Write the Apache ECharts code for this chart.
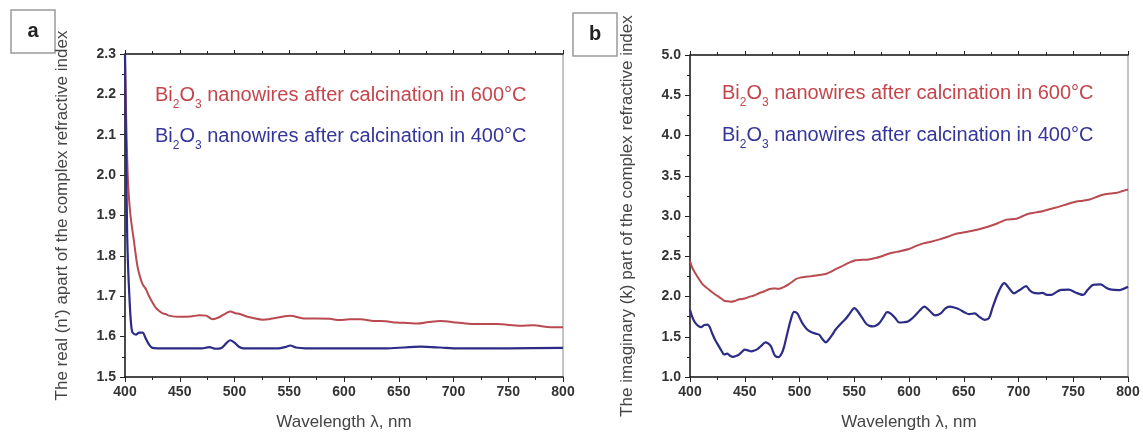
<!DOCTYPE html>
<html>
<head>
<meta charset="utf-8">
<script src="https://cdn.jsdelivr.net/npm/echarts@6/dist/echarts.min.js"></script>
<style>
  html, body { margin: 0; padding: 0; background: #fff; }
  #chart { width: 1143px; height: 432px; }
</style>
</head>
<body>
<div id="chart"></div>
<script>
// panel a: real part n
var aRedWl = [400,401,402,403,405,408,411,413,416,419,422,425,428,431,434,437,440,450,460,468,474,480,486,491,496,501,505,511,517,526,533,541,551,563,575,587,596,605,615,627,638,648,658,667,677,688,703,718,740,761,773,786,800];
var aRed   = [2.29,2.15,2.04,1.97,1.90,1.84,1.78,1.755,1.73,1.718,1.70,1.685,1.672,1.664,1.658,1.656,1.652,1.649,1.650,1.653,1.652,1.643,1.648,1.656,1.662,1.658,1.656,1.650,1.646,1.642,1.644,1.648,1.652,1.645,1.645,1.644,1.641,1.643,1.643,1.639,1.638,1.635,1.634,1.6325,1.636,1.639,1.635,1.631,1.631,1.627,1.628,1.624,1.623];
var aBlueWl = [400,401,402,403,404,405,406,407,410,413,416,419,422,425,430,450,470,477,483,488,492,496,500,504,508,520,540,546,551,556,565,600,640,670,688,700,750,800];
var aBlue   = [2.30,2.05,1.85,1.76,1.70,1.65,1.62,1.61,1.605,1.61,1.61,1.595,1.58,1.572,1.571,1.571,1.571,1.574,1.570,1.572,1.582,1.591,1.585,1.575,1.571,1.571,1.571,1.574,1.578,1.573,1.571,1.571,1.571,1.575,1.573,1.571,1.571,1.572];

// panel b: imaginary part k
var bRedWl = [400,402,405,408,411,414,417,420,423,427,431,434,437,441,445,450,454,458,463,468,472,476,478,481,486,490,494,497,501,506,510,515,520,524,529,533,538,542,547,551,557,563,568,573,578,582,587,591,600,606,613,620,628,636,643,652,661,668,674,681,689,698,704,710,716,722,730,738,745,753,759,765,771,777,784,790,795,800];
var bRed   = [2.44,2.36,2.285,2.22,2.16,2.12,2.09,2.055,2.025,1.99,1.95,1.94,1.935,1.945,1.965,1.975,1.995,2.01,2.04,2.065,2.09,2.10,2.10,2.095,2.12,2.15,2.19,2.22,2.235,2.245,2.25,2.26,2.27,2.28,2.31,2.34,2.37,2.40,2.43,2.45,2.455,2.46,2.475,2.49,2.515,2.535,2.55,2.56,2.59,2.625,2.66,2.68,2.71,2.745,2.78,2.80,2.825,2.85,2.875,2.91,2.955,2.965,3.0,3.03,3.045,3.06,3.09,3.12,3.15,3.18,3.19,3.205,3.235,3.265,3.28,3.29,3.31,3.33];
var bBlueWl = [400,402,404,407,410,413,416,418,420,423,426,429,431,434,436,439,442,445,448,450,453,456,459,462,466,469,471,474,476,478,481,484,486,489,492,495,498,501,503,507,511,515,518,521,524,527,530,533,536,539,542,546,550,553,557,561,564,567,570,573,577,580,583,587,591,595,599,603,606,610,614,619,624,629,633,637,642,646,651,655,660,664,669,673,676,680,684,687,691,696,701,707,710,713,718,722,726,730,734,738,746,752,759,763,768,775,780,785,792,800];
var bBlue   = [1.835,1.75,1.69,1.64,1.62,1.645,1.65,1.62,1.55,1.46,1.39,1.32,1.28,1.29,1.27,1.25,1.26,1.28,1.32,1.34,1.33,1.318,1.33,1.35,1.40,1.43,1.42,1.38,1.31,1.26,1.248,1.30,1.38,1.55,1.71,1.81,1.79,1.71,1.66,1.59,1.555,1.537,1.525,1.47,1.43,1.47,1.525,1.59,1.636,1.68,1.72,1.79,1.855,1.82,1.74,1.66,1.635,1.628,1.64,1.67,1.75,1.805,1.79,1.74,1.677,1.68,1.69,1.73,1.77,1.83,1.875,1.82,1.765,1.79,1.85,1.875,1.86,1.84,1.80,1.78,1.79,1.75,1.71,1.73,1.85,2.0,2.12,2.165,2.11,2.04,2.08,2.13,2.08,2.05,2.04,2.045,2.02,2.02,2.05,2.08,2.085,2.05,2.02,2.08,2.144,2.15,2.11,2.085,2.08,2.12];

var legendRed = '600°C';
var legendBlue = '400°C';

function pairs(xs, ys) {
    return xs.map(function (x, i) { return [x, ys[i]]; });
}

var chart = echarts.init(document.getElementById('chart'));

var font = 'Liberation Sans, Arial, sans-serif';
var redLine = '#b84a50';
var blueLine = '#2c2c86';

function xAxisFor(gi) {
    return {
        type: 'value', gridIndex: gi, min: 400, max: 800, interval: 50,
        name: 'Wavelength \u03bb, nm', nameLocation: 'middle', nameGap: 37,
        nameTextStyle: { fontFamily: font, fontSize: 17, color: '#444' },
        axisLine: { show: true, onZero: false, lineStyle: { color: '#222', width: 1.5 } },
        axisTick: { show: true, length: 5, lineStyle: { color: '#222' } },
        minorTick: { show: true, splitNumber: 2, length: 3, lineStyle: { color: '#222' } },
        axisLabel: { fontFamily: font, fontSize: 14, fontWeight: 'bold', color: '#333', margin: 8 },
        splitLine: { show: false }
    };
}
function topAxisFor(gi) {
    return {
        type: 'value', gridIndex: gi, position: 'top', min: 400, max: 800, interval: 50,
        axisLine: { show: true, onZero: false, lineStyle: { color: '#222', width: 1.5 } },
        axisTick: { show: true, length: 4, lineStyle: { color: '#222' } },
        minorTick: { show: true, splitNumber: 2, length: 3, lineStyle: { color: '#222' } },
        axisLabel: { show: false },
        splitLine: { show: false }
    };
}
function yAxisFor(gi, min, max, step, name) {
    return {
        type: 'value', gridIndex: gi, min: min, max: max, interval: step,
        name: name, nameLocation: 'middle', nameGap: 54,
        nameTextStyle: { fontFamily: font, fontSize: 17, color: '#444' },
        axisLine: { show: true, onZero: false, lineStyle: { color: '#222', width: 1.5 } },
        axisTick: { show: true, length: 5, lineStyle: { color: '#222' } },
        minorTick: { show: true, splitNumber: 2, length: 3, lineStyle: { color: '#222' } },
        axisLabel: {
            fontFamily: font, fontSize: 14, fontWeight: 'bold', color: '#333', margin: 9,
            formatter: function (v) { return v.toFixed(1); }
        },
        splitLine: { show: false }
    };
}

function legendText(x, y, temp, color) {
    return {
        type: 'text', left: x, top: y,
        style: {
            text: '{r|Bi}{s|2}{r|O}{s|3}{r| nanowires after calcination in ' + temp + '}',
            rich: {
                r: { fontFamily: font, fontSize: 20, fill: color, lineHeight: 26, verticalAlign: 'middle' },
                s: { fontFamily: font, fontSize: 12, fill: color, lineHeight: 26, verticalAlign: 'bottom', padding: [0, 0, -3, 0] }
            }
        }
    };
}
function panelBox(x, y, label) {
    return [
        { type: 'rect', shape: { x: x, y: y, width: 44, height: 43 },
          style: { fill: '#fff', stroke: '#9a9a9a', lineWidth: 1.5 } },
        { type: 'text', x: x + 22, y: y + 21,
          style: { text: label, fontFamily: font, fontSize: 20, fontWeight: 'bold', fill: '#222',
                   align: 'center', verticalAlign: 'middle' } }
    ];
}

var option = {
    backgroundColor: '#fff',
    animation: false,
    grid: [
        { left: 125, right: 580, top: 54, bottom: 55, outerBoundsMode: 'none',
          show: true, borderColor: '#8a8a8a', borderWidth: 1 },
        { left: 690, right: 15, top: 55, bottom: 55, outerBoundsMode: 'none',
          show: true, borderColor: '#8a8a8a', borderWidth: 1 }
    ],
    xAxis: [xAxisFor(0), xAxisFor(1), topAxisFor(0), topAxisFor(1)],
    yAxis: [
        yAxisFor(0, 1.5, 2.3, 0.1, "The real (n') apart of the complex refractive index"),
        yAxisFor(1, 1.0, 5.0, 0.5, 'The imaginary (k) part of the complex refractive index')
    ],
    series: [
        { type: 'line', xAxisIndex: 0, yAxisIndex: 0, data: pairs(aRedWl, aRed), smooth: 0.3,
          showSymbol: false, lineStyle: { color: redLine, width: 2 }, z: 3 },
        { type: 'line', xAxisIndex: 0, yAxisIndex: 0, data: pairs(aBlueWl, aBlue), smooth: 0.3,
          showSymbol: false, lineStyle: { color: blueLine, width: 2.2 }, z: 4 },
        { type: 'line', xAxisIndex: 1, yAxisIndex: 1, data: pairs(bRedWl, bRed), smooth: 0.3,
          showSymbol: false, lineStyle: { color: redLine, width: 2 }, z: 3 },
        { type: 'line', xAxisIndex: 1, yAxisIndex: 1, data: pairs(bBlueWl, bBlue), smooth: 0.3,
          showSymbol: false, lineStyle: { color: blueLine, width: 2.2 }, z: 4 }
    ],
    graphic: [].concat(
        panelBox(11, 10, 'a'),
        panelBox(573, 13, 'b'),
        [
            legendText(155, 85, legendRed, '#c4464c'),
            legendText(155, 126, legendBlue, '#35359a'),
            legendText(722, 83, legendRed, '#c4464c'),
            legendText(722, 125, legendBlue, '#35359a')
        ]
    )
};

chart.setOption(option);
</script>
</body>
</html>
